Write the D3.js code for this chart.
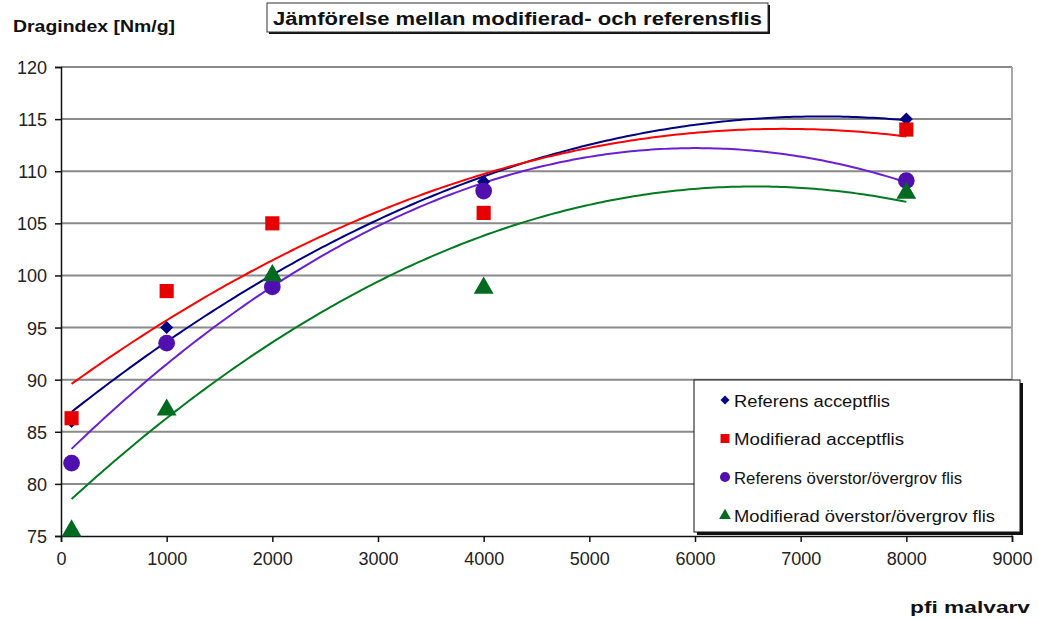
<!DOCTYPE html>
<html><head><meta charset="utf-8">
<script src="https://cdn.jsdelivr.net/npm/d3@7/dist/d3.min.js"></script>
<style>body{margin:0;background:#fff;}svg{display:block;font-family:"Liberation Sans",Arial,sans-serif;}</style>
</head><body><svg id="c" width="1039" height="619"></svg>
<script>
const xValues = [100, 1000, 2000, 4000, 8000];
const refAccept = [86, 95, 100, 109, 115];
const modAccept = [86.3, 98.5, 105, 106, 114];
const refOver = [82, 93.5, 98.9, 108.1, 109.1];
const modOver = [75.5, 87.1, 100, 98.8, 107.9];
const seriesNames = ["Referens acceptflis", "Modifierad acceptflis", "Referens överstor/övergrov flis", "Modifierad överstor/övergrov flis"];
const xTicks = [0,1000,2000,3000,4000,5000,6000,7000,8000,9000];
const yTicks = [75,80,85,90,95,100,105,110,115,120];
const titleText = "Jämförelse mellan modifierad- och referensflis";
const yTitle = "Dragindex [Nm/g]";
const xTitle = "pfi malvarv";

const series = [
  {name: seriesNames[0], values: refAccept, color: "#000080", line: "#000080", shape: "diamond"},
  {name: seriesNames[1], values: modAccept, color: "#e60000", line: "#ff0000", shape: "square"},
  {name: seriesNames[2], values: refOver, color: "#5010b0", line: "#6a1fd0", shape: "circle"},
  {name: seriesNames[3], values: modOver, color: "#006a20", line: "#007a20", shape: "triangle"}
];

const svg = d3.select("#c");
const L = 61, R = 1012, T = 67, B = 536;
const x = d3.scaleLinear().domain([0, 9000]).range([L, R]);
const y = d3.scaleLinear().domain([75, 120]).range([B, T]);

// gridlines
svg.append("g").selectAll("line").data(yTicks.filter(d => d > 75)).join("line")
  .attr("x1", L).attr("x2", R).attr("y1", d => y(d)).attr("y2", d => y(d))
  .attr("stroke", "#8a8a8a").attr("stroke-width", 2);
svg.append("line").attr("x1", R).attr("x2", R).attr("y1", T).attr("y2", B)
  .attr("stroke", "#a8a8a8").attr("stroke-width", 2);

// axes
const yAxis = d3.axisLeft(y).tickValues(yTicks).tickSize(6).tickPadding(8).tickFormat(d3.format("d"));
const xAxis = d3.axisBottom(x).tickValues(xTicks).tickSize(6).tickPadding(10).tickFormat(d3.format("d"));
const gy = svg.append("g").attr("transform", `translate(${L},0)`).call(yAxis);
const gx = svg.append("g").attr("transform", `translate(0,${B})`).call(xAxis);
[gx, gy].forEach(g => {
  g.select(".domain").attr("stroke", "#111").attr("stroke-width", 1.5);
  g.selectAll(".tick line").attr("stroke", "#111").attr("stroke-width", 1.5);
  g.selectAll("text").attr("fill", "#222").style("font-size", "18px").style("font-family", "Liberation Sans, Arial, sans-serif");
});
gy.selectAll("text").attr("dy", "0.36em");

// quadratic least-squares trendline
function quadFit(xs, ys) {
  const n = xs.length;
  let s = [0,0,0,0,0], t = [0,0,0];
  for (let i = 0; i < n; i++) {
    const xi = xs[i] / 1000;
    for (let k = 0; k < 5; k++) s[k] += Math.pow(xi, k);
    for (let k = 0; k < 3; k++) t[k] += ys[i] * Math.pow(xi, k);
  }
  const M = [[s[0],s[1],s[2],t[0]],[s[1],s[2],s[3],t[1]],[s[2],s[3],s[4],t[2]]];
  for (let i = 0; i < 3; i++) {
    for (let j = i + 1; j < 3; j++) {
      const f = M[j][i] / M[i][i];
      for (let k = i; k < 4; k++) M[j][k] -= f * M[i][k];
    }
  }
  const c = [0,0,0];
  for (let i = 2; i >= 0; i--) {
    let v = M[i][3];
    for (let k = i + 1; k < 3; k++) v -= M[i][k] * c[k];
    c[i] = v / M[i][i];
  }
  return xv => { const u = xv / 1000; return c[0] + c[1]*u + c[2]*u*u; };
}

const line = d3.line().x(d => x(d[0])).y(d => y(d[1]));
const xmin = d3.min(xValues), xmax = d3.max(xValues);
series.forEach(s => {
  const f = quadFit(xValues, s.values);
  const pts = d3.range(0, 201).map(i => { const xv = xmin + (xmax - xmin) * i / 200; return [xv, f(xv)]; });
  svg.append("path").attr("d", line(pts)).attr("fill", "none").attr("stroke", s.line).attr("stroke-width", 2);
});

const symMap = {diamond: d3.symbolSquare, square: d3.symbolSquare, circle: d3.symbolCircle, triangle: d3.symbolTriangle};
const rotMap = {diamond: 45, square: 0, circle: 0, triangle: 0};
const sizeMap = {diamond: 85, square: 200, circle: 220, triangle: 170};
series.forEach(s => {
  svg.append("g").selectAll("path").data(xValues.map((xv, i) => [xv, s.values[i]])).join("path")
    .attr("transform", d => `translate(${x(d[0])},${y(d[1])}) rotate(${rotMap[s.shape]})`)
    .attr("d", d3.symbol().type(symMap[s.shape]).size(sizeMap[s.shape]))
    .attr("fill", s.color);
});

// legend
const lg = {x: 694, y: 380, w: 326, h: 152};
svg.append("rect").attr("x", lg.x + 3).attr("y", lg.y + 3).attr("width", lg.w).attr("height", lg.h).attr("fill", "#111");
svg.append("rect").attr("x", lg.x).attr("y", lg.y).attr("width", lg.w).attr("height", lg.h).attr("fill", "#fff").attr("stroke", "#111").attr("stroke-width", 1);
const legSize = {diamond: 40, square: 80, circle: 80, triangle: 60};
const legLen = [156, 170, 228, 261];
series.forEach((s, i) => {
  const cy = 401 + i * 38.5;
  svg.append("path").attr("transform", `translate(${lg.x + 31},${cy - 1}) rotate(${rotMap[s.shape]})`)
    .attr("d", d3.symbol().type(symMap[s.shape]).size(legSize[s.shape])).attr("fill", s.color);
  svg.append("text").attr("x", lg.x + 40).attr("y", cy + 5.5).text(s.name)
    .attr("textLength", legLen[i]).attr("lengthAdjust", "spacingAndGlyphs")
    .attr("fill", "#111").style("font-size", "16px");
});

// title box
svg.append("rect").attr("x", 269).attr("y", 5).attr("width", 501).attr("height", 29).attr("fill", "#111");
svg.append("rect").attr("x", 267).attr("y", 3).attr("width", 501).attr("height", 29).attr("fill", "#fff").attr("stroke", "#333").attr("stroke-width", 1);
svg.append("text").attr("x", 273).attr("y", 25).text(titleText)
  .attr("textLength", 489).attr("lengthAdjust", "spacingAndGlyphs")
  .attr("fill", "#111").style("font-size", "18px").style("font-weight", "bold");

svg.append("text").attr("x", 13).attr("y", 32).text(yTitle)
  .attr("textLength", 162).attr("lengthAdjust", "spacingAndGlyphs")
  .attr("fill", "#111").style("font-size", "16px").style("font-weight", "bold");
svg.append("text").attr("x", 910).attr("y", 613).text(xTitle)
  .attr("textLength", 120).attr("lengthAdjust", "spacingAndGlyphs")
  .attr("fill", "#111").style("font-size", "16px").style("font-weight", "bold");
</script></body></html>
